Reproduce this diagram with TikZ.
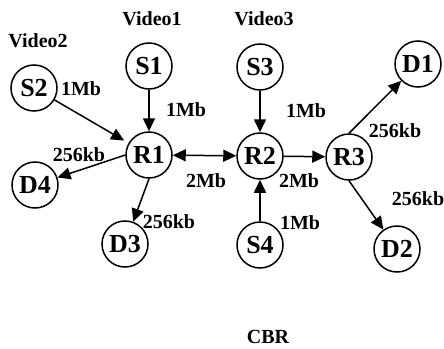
\documentclass[tikz,border=0pt]{standalone}
\usepackage{fontspec}
\setmainfont{Liberation Serif}
\usetikzlibrary{arrows.meta}
\tikzset{
  nd/.style={circle,draw,line width=1.5pt,minimum size=46pt,inner sep=0pt,font=\fontsize{26}{26}\selectfont\bfseries},
  lbl/.style={inner sep=0pt,font=\fontsize{20}{20}\selectfont\bfseries},
  arr/.style={line width=1.5pt,-{Triangle[length=13pt,width=12pt]}},
  darr/.style={line width=1.5pt,{Triangle[length=13pt,width=12pt]}-{Triangle[length=13pt,width=12pt]}}
}
\begin{document}
\begin{tikzpicture}[x=1pt,y=-1pt]
\useasboundingbox (0,0) rectangle (444,348);
\node[nd] (S1) at (149,66) {S1};
\node[nd] (S2) at (34,88) {S2};
\node[nd] (S3) at (260,67) {S3};
\node[nd] (S4) at (260,245) {S4};
\node[nd] (R1) at (149,155) {R1};
\node[nd] (R2) at (260,156) {R2};
\node[nd] (R3) at (349,157) {R3};
\node[nd] (D1) at (418,64) {D1};
\node[nd] (D2) at (397,249) {D2};
\node[nd] (D3) at (125,244) {D3};
\node[nd] (D4) at (35,185) {D4};

\node[lbl] (v1) at (152,19) {Video1};
\node[lbl] (v2) at (38,41) {Video2};
\node[lbl] (v3) at (264,19) {Video3};
\node[lbl] (cbr) at (268,337) {CBR};

\node[lbl] (l1) at (81,89) {1Mb};
\node[lbl] (l2) at (186,110) {1Mb};
\node[lbl] (l3) at (306,111) {1Mb};
\node[lbl] (l4) at (300,223) {1Mb};
\node[lbl] (l5) at (206,181) {2Mb};
\node[lbl] (l6) at (299,181) {2Mb};
\node[lbl] (l7) at (79,155) {256kb};
\node[lbl] (l8) at (169,222) {256kb};
\node[lbl] (l9) at (395,131) {256kb};
\node[lbl] (l10) at (418,199) {256kb};

\draw[arr,shorten >=5pt] (S2) -- (R1);
\draw[arr] (S1) -- (R1);
\draw[arr] (S3) -- (R2);
\draw[arr] (S4) -- (R2);
\draw[darr] (R1) -- (R2);
\draw[arr] (R2) -- (R3);
\draw[arr] (R3.north) -- (D1);
\draw[arr] (R3.south) -- (D2);
\draw[arr] (R1.west) -- (D4);
\draw[arr] (R1.south) -- (D3);
\end{tikzpicture}
\end{document}
